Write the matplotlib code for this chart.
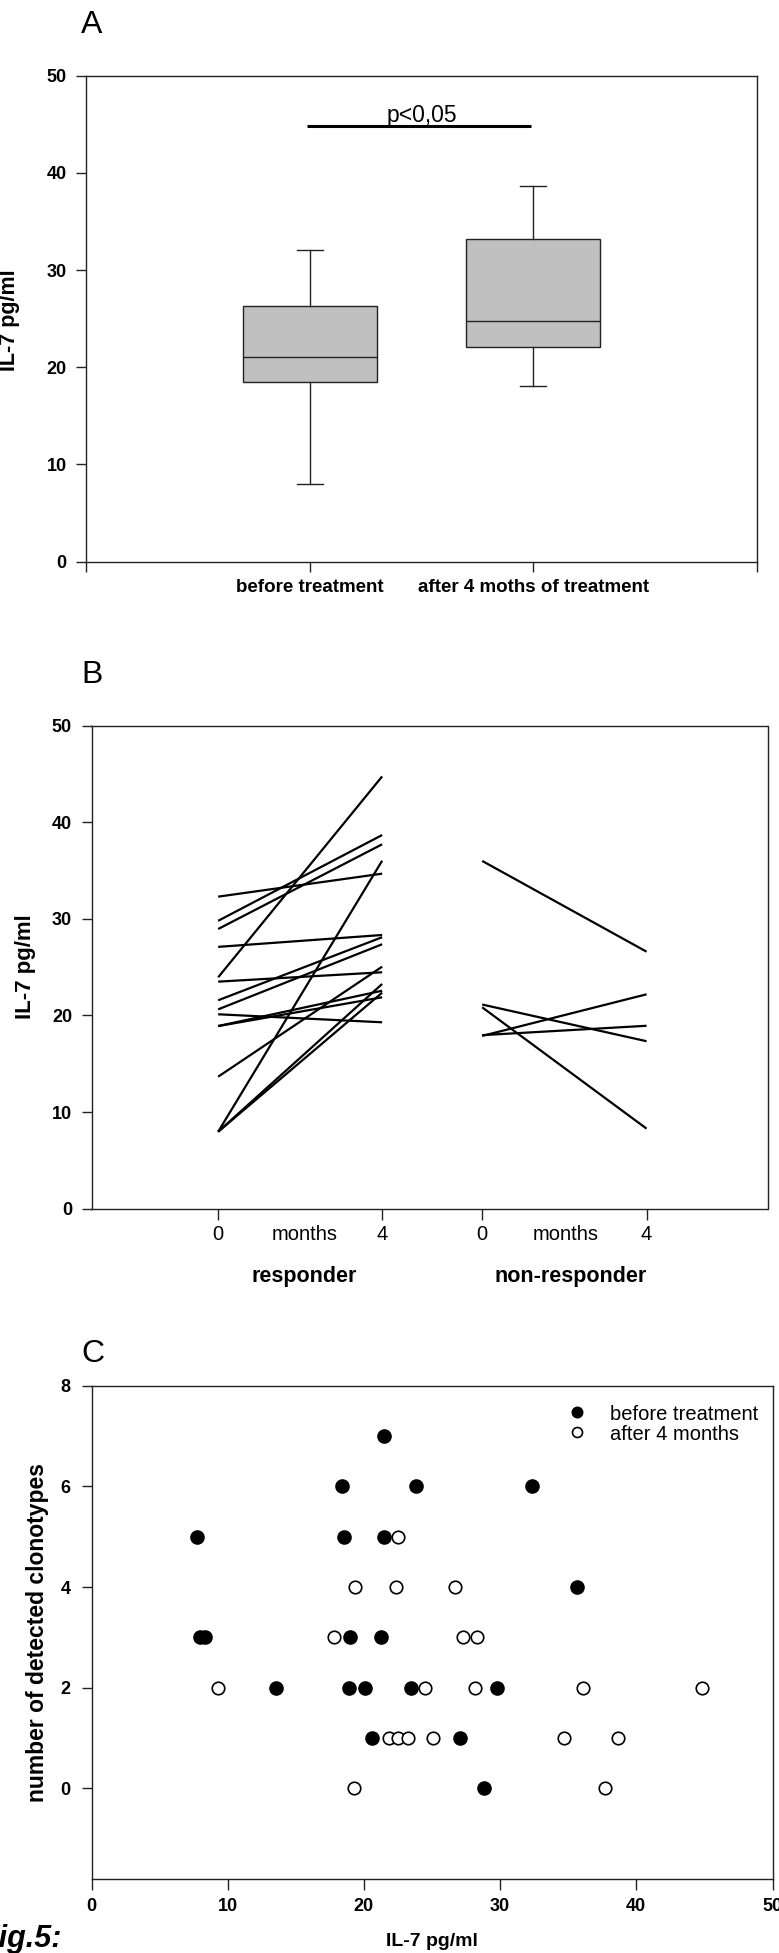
import matplotlib
matplotlib.use("Agg")
import matplotlib.pyplot as plt
import matplotlib.transforms as mtransforms

plt.rcParams['font.family'] = ['Liberation Sans', 'DejaVu Sans']

W, H = 779, 1953

# ---------------- Data ----------------
# Panel A: box plot summary (IL-7 pg/ml)
box_labels = ['before treatment', 'after 4 moths of treatment']
box_whislo = [8.0, 18.1]
box_q1 = [18.5, 22.05]
box_med = [21.0, 24.8]
box_q3 = [26.3, 33.15]
box_whishi = [32.05, 38.65]
sig_level = 44.85
sig_text = 'p<0,05'

# Panel B: paired values (0 months -> 4 months)
resp_before = [32.3, 29.8, 28.95, 27.1, 23.95, 23.5, 21.57, 20.63, 20.12, 18.9, 18.9, 13.66, 7.96, 7.96, 7.96]
resp_after = [34.68, 38.68, 37.72, 28.33, 44.75, 24.47, 28.1, 27.37, 19.29, 22.56, 21.88, 25.05, 36.02, 23.26, 22.36]
nonresp_before = [36.0, 21.13, 20.84, 17.88, 17.96]
nonresp_after = [26.6, 17.33, 8.28, 22.19, 18.93]
month_ticks = ['0', '4', '0', '4']
group_labels = ['responder', 'non-responder']

# Panel C: IL-7 vs number of detected clonotypes
before_x = [7.78, 8.0, 8.3, 13.58, 18.39, 18.54, 18.98, 18.87, 20.08, 20.56, 21.22, 21.48, 21.51,
            23.49, 23.86, 27.09, 28.82, 29.74, 32.31, 35.65]
before_y = [5, 3, 3, 2, 6, 5, 3, 2, 2, 1, 3, 7, 5, 2, 6, 1, 0, 2, 6, 4]
after_x = [9.29, 17.84, 19.24, 19.38, 21.81, 22.36, 22.47, 22.54, 23.27, 24.49, 25.07, 26.69, 27.31,
           28.34, 28.16, 34.69, 36.05, 37.70, 38.69, 44.82]
after_y = [2, 3, 0, 4, 1, 4, 5, 1, 1, 2, 1, 4, 3, 3, 2, 1, 2, 0, 1, 2]

# ---------------- Figure ----------------
fig = plt.figure(figsize=(W / 100, H / 100), dpi=100)


def rect(l, t, r, b):
    return [l / W, 1 - b / H, (r - l) / W, (b - t) / H]


def px(x, y):
    return (x / W, 1 - y / H)


def style_axes(ax):
    for s in ax.spines.values():
        s.set_linewidth(1.0)
        s.set_color('#222222')
    ax.tick_params(direction='out', length=7, width=1, color='#222222')


# ---- Panel A ----
axA = fig.add_axes(rect(86, 75.7, 757, 561.5))
stats = []
for i in range(2):
    stats.append(dict(med=box_med[i], q1=box_q1[i], q3=box_q3[i],
                      whislo=box_whislo[i], whishi=box_whishi[i], fliers=[], label=box_labels[i]))
axA.bxp(stats, positions=[1, 2], widths=0.6, patch_artist=True, showfliers=False,
        manage_ticks=False, capwidths=0.116,
        boxprops=dict(facecolor='#c0c0c0', edgecolor='#222222', linewidth=1.0),
        medianprops=dict(color='#222222', linewidth=1.0),
        whiskerprops=dict(color='#222222', linewidth=1.0),
        capprops=dict(color='#222222', linewidth=1.0))
axA.plot([0.99, 1.99], [sig_level, sig_level], color='black', lw=2.2, solid_capstyle='butt')
axA.text(1.5, sig_level + 0.42, sig_text, ha='center', va='baseline', fontsize=16.5)
axA.set_xlim(0, 3)
axA.set_ylim(0, 50)
axA.set_yticks(range(0, 51, 10))
axA.set_yticklabels([str(v) for v in range(0, 51, 10)], fontsize=13, fontweight='bold')
axA.set_xticks([0, 1, 2, 3])
axA.set_xticklabels([''] + box_labels + [''], fontsize=13.5, fontweight='bold')
style_axes(axA)
axA.tick_params(axis='y', pad=7)
axA.tick_params(axis='x', pad=5.5)
fig.text(*px(10, 320), 'IL-7 pg/ml', rotation=90, ha='center', va='center',
         fontsize=15.5, fontweight='bold')
fig.text(*px(81, 33), 'A', fontsize=23, ha='left', va='baseline')

# ---- Panel B ----
axB = fig.add_axes(rect(91.5, 725.7, 767.5, 1208.6))
xr = [0, 4]
xn = [6.44, 10.45]
for s, e in zip(resp_before, resp_after):
    axB.plot(xr, [s, e], color='black', lw=1.6, solid_capstyle='butt')
for s, e in zip(nonresp_before, nonresp_after):
    axB.plot(xn, [s, e], color='black', lw=1.6, solid_capstyle='butt')
axB.set_xlim(-3.09, 13.4)
axB.set_ylim(0, 50)
axB.set_yticks(range(0, 51, 10))
axB.set_yticklabels([str(v) for v in range(0, 51, 10)], fontsize=13, fontweight='bold')
axB.set_xticks(xr + xn)
axB.set_xticklabels(month_ticks, fontsize=14.5)
style_axes(axB)
axB.tick_params(axis='y', pad=7)
axB.tick_params(axis='x', length=8, pad=4)
tB = mtransforms.blended_transform_factory(axB.transData, axB.transAxes)
axB.text(2.11, -0.065, 'months', transform=tB, ha='center', va='baseline', fontsize=14.5)
axB.text(8.48, -0.065, 'months', transform=tB, ha='center', va='baseline', fontsize=14.5)
axB.text(2.11, -0.153, group_labels[0], transform=tB, ha='center', va='baseline',
         fontsize=15.5, fontweight='bold')
axB.text(8.6, -0.153, group_labels[1], transform=tB, ha='center', va='baseline',
         fontsize=15.5, fontweight='bold')
fig.text(*px(25, 967), 'IL-7 pg/ml', rotation=90, ha='center', va='center',
         fontsize=16, fontweight='bold')
fig.text(*px(81, 683), 'B', fontsize=23, ha='left', va='baseline')

# ---- Panel C ----
axC = fig.add_axes(rect(91.5, 1385.8, 772.5, 1879))
axC.plot(before_x, before_y, 'o', ms=9.5, mfc='black', mec='black', mew=1.0,
         linestyle='none', label='before treatment')
axC.plot(after_x, after_y, 'o', ms=9, mfc='white', mec='black', mew=1.2,
         linestyle='none', label='after 4 months')
axC.set_xlim(0, 50)
axC.set_ylim(-1.8, 8)
axC.set_xticks(range(0, 51, 10))
axC.set_xticklabels([str(v) for v in range(0, 51, 10)], fontsize=13, fontweight='bold')
axC.set_yticks([0, 2, 4, 6, 8])
axC.set_yticklabels(['0', '2', '4', '6', '8'], fontsize=13, fontweight='bold')
style_axes(axC)
axC.tick_params(axis='y', pad=8)
axC.tick_params(axis='x', length=8, pad=6)
axC.legend(loc='upper left', bbox_to_anchor=px(567.3, 1404.5), bbox_transform=fig.transFigure,
           frameon=False, borderpad=0, borderaxespad=0, handlelength=1.0, handletextpad=1.1,
           labelspacing=0.05, fontsize=14.5, markerscale=0.8)
fig.text(*px(432, 1941), 'IL-7 pg/ml', ha='center', va='center', fontsize=14, fontweight='bold')
fig.text(*px(38, 1632), 'number of detected clonotypes', rotation=90, ha='center', va='center',
         fontsize=16.5, fontweight='bold')
fig.text(*px(81, 1362), 'C', fontsize=23, ha='left', va='baseline')
fig.text(*px(62, 1947), 'Fig.5:', ha='right', va='baseline', fontsize=22,
         fontweight='bold', fontstyle='italic')

fig.savefig('out.png', dpi=100, facecolor='white')
